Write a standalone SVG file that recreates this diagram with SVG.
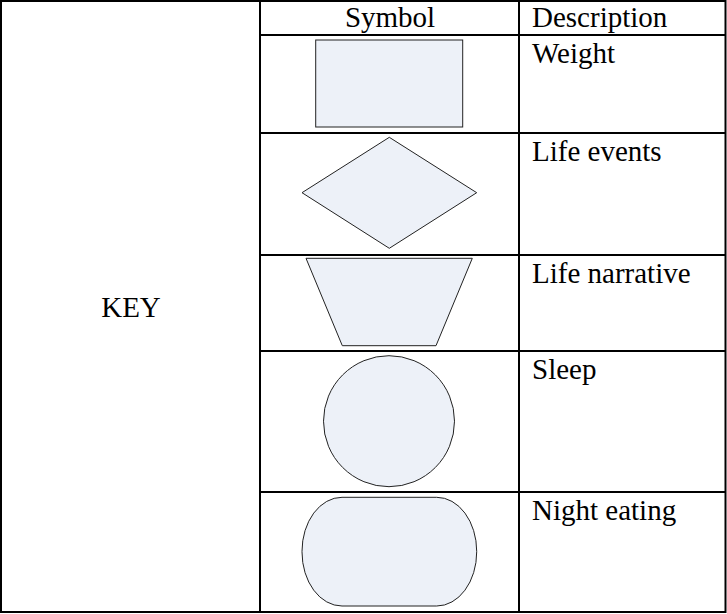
<svg xmlns="http://www.w3.org/2000/svg" width="727" height="614" viewBox="0 0 727 614">
<style>
.t{font-family:'Liberation Serif','DejaVu Serif',serif;font-size:29px;fill:#000}
.g{stroke:#000;stroke-width:2;fill:none}
.s{fill:#EDF1F8;stroke:#222;stroke-width:1}
</style>
<rect width="727" height="614" fill="#fff"/>
<g id="table">
<rect class="g" x="1" y="1" width="724.5" height="611"/>
<line class="g" x1="260" y1="1" x2="260" y2="612"/>
<line class="g" x1="519" y1="1" x2="519" y2="612"/>
<line class="g" x1="260" y1="35" x2="725" y2="35"/>
<line class="g" x1="260" y1="133" x2="725" y2="133"/>
<line class="g" x1="260" y1="255" x2="725" y2="255"/>
<line class="g" x1="260" y1="351" x2="725" y2="351"/>
<line class="g" x1="260" y1="492" x2="725" y2="492"/>
</g>
<g id="headers">
<text class="t" font-family="Liberation Serif" x="131" y="317" text-anchor="middle">KEY</text>
<text class="t" font-family="Liberation Serif" x="390" y="27" text-anchor="middle">Symbol</text>
<text class="t" font-family="Liberation Serif" x="532" y="27">Description</text>
</g>
<g id="weight">
<rect class="s" x="315.7" y="40" width="147" height="87"/>
<text class="t" font-family="Liberation Serif" x="532" y="63">Weight</text>
</g>
<g id="life-events">
<polygon class="s" points="389.3,137.3 476.7,192.7 389.3,248.3 302,192.7"/>
<text class="t" font-family="Liberation Serif" x="532" y="161">Life events</text>
</g>
<g id="life-narrative">
<polygon class="s" points="306,258.3 472.3,258.3 436,345.7 342.3,345.7"/>
<text class="t" font-family="Liberation Serif" x="532" y="283">Life narrative</text>
</g>
<g id="sleep">
<circle class="s" cx="389" cy="421.2" r="65.5"/>
<text class="t" font-family="Liberation Serif" x="532" y="379">Sleep</text>
</g>
<g id="night-eating">
<rect class="s" x="302" y="497.3" width="174.7" height="108.7" rx="40" ry="54"/>
<text class="t" font-family="Liberation Serif" x="532" y="520">Night eating</text>
</g>
<g id="connectors"/>
</svg>
